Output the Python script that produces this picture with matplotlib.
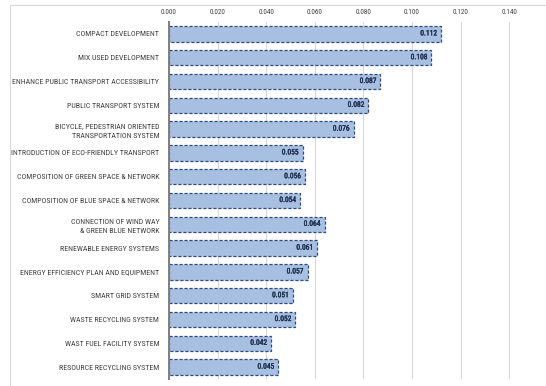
import matplotlib
matplotlib.use("Agg")
import matplotlib.pyplot as plt
import matplotlib.patheffects as pe
from matplotlib.patches import Rectangle
from matplotlib import font_manager
from matplotlib.font_manager import FontProperties

categories = [
    "COMPACT DEVELOPMENT",
    "MIX USED DEVELOPMENT",
    "ENHANCE PUBLIC TRANSPORT ACCESSIBILITY",
    "PUBLIC TRANSPORT SYSTEM",
    "BICYCLE, PEDESTRIAN ORIENTED\nTRANSPORTATION SYSTEM",
    "INTRODUCTION OF ECO-FRIENDLY TRANSPORT",
    "COMPOSITION OF GREEN SPACE & NETWORK",
    "COMPOSITION OF BLUE SPACE & NETWORK",
    "CONNECTION OF WIND WAY\n& GREEN BLUE NETWORK",
    "RENEWABLE ENERGY SYSTEMS",
    "ENERGY EFFICIENCY PLAN AND EQUIPMENT",
    "SMART GRID SYSTEM",
    "WASTE RECYCLING SYSTEM",
    "WAST FUEL FACILITY SYSTEM",
    "RESOURCE RECYCLING SYSTEM",
]
values = [0.112, 0.108, 0.087, 0.082, 0.076, 0.055, 0.056, 0.054,
          0.064, 0.061, 0.057, 0.051, 0.052, 0.042, 0.045]
xticks = [0.0, 0.02, 0.04, 0.06, 0.08, 0.10, 0.12, 0.14]
xtick_labels = ["0.000", "0.020", "0.040", "0.060", "0.080", "0.100", "0.120", "0.140"]

W, H = 546, 386
fig = plt.figure(figsize=(W / 100, H / 100), dpi=100)
renderer = fig.canvas.get_renderer()

# choose an installed sans face whose proportions are closest to the
# reference's narrow face (longest label ~145 px wide at ~6 pt)
longest = "ENHANCE PUBLIC TRANSPORT ACCESSIBILITY"
names = {"Roboto", "Roboto Condensed", "Noto Sans", "Noto Sans Condensed",
         "Open Sans", "Open Sans Condensed", "Lato", "Inter", "Liberation Sans",
         "Liberation Sans Narrow", "DejaVu Sans", "Arimo"}
target_px = 147.0
target_w10 = target_px * 10 / 6.0
best = None
for f in font_manager.fontManager.ttflist:
    if f.name not in names:
        continue
    if f.style != "normal" or f.weight not in (400, "normal", "regular"):
        continue
    try:
        fp = FontProperties(fname=f.fname, size=10)
        w, h, d = renderer.get_text_width_height_descent(longest, fp, ismath=False)
    except Exception:
        continue
    score = abs(w - target_w10)
    if best is None or score < best[0]:
        best = (score, f.fname, w)
fname = best[1]
size = 10 * target_px / best[2]
size = max(min(size, 6.8), 5.0)

label_fp = FontProperties(fname=fname, size=size)
tick_fp = FontProperties(fname=fname, size=size * 0.9)
val_fp = FontProperties(fname=fname, size=size * 0.95)

# outer chart border
fig.patches.append(Rectangle((10 / W, -0.01), 1.0, (H - 5) / H + 0.01,
                             transform=fig.transFigure, fill=False,
                             edgecolor="#D9D9D9", linewidth=0.8))

left, right, top, bottom = 169, 533, 22, 379
ax = fig.add_axes([left / W, (H - bottom) / H, (right - left) / W, (bottom - top) / H])

y = list(range(len(categories)))
ax.barh(y, values, height=0.64, color="#A7BFE0", edgecolor="#2F4B7C",
        linestyle=(0, (2.5, 1.5)), linewidth=0.9, zorder=3)

for yi, v in zip(y, values):
    t = ax.text(v - 0.0017, yi, f"{v:.3f}", ha="right", va="center",
                fontproperties=val_fp, color="#1F3050", zorder=4)
    t.set_path_effects([pe.withStroke(linewidth=0.25, foreground="#1F3050")])

ax.set_xlim(0, (right - left) / 2430)
ax.set_ylim(len(categories) - 0.5, -0.5)
ax.set_xticks(xticks)
ax.set_xticklabels(xtick_labels, fontproperties=tick_fp, color="#404040")
ax.xaxis.tick_top()
ax.tick_params(axis="x", length=0, pad=4)
ax.set_yticks(y)
ax.set_yticklabels(categories, fontproperties=label_fp, color="#404040", linespacing=1.6)
ax.tick_params(axis="y", length=0, pad=7)
ax.grid(axis="x", color="#D9D9D9", linewidth=0.8, zorder=0)
for s in ["top", "right", "bottom"]:
    ax.spines[s].set_visible(False)
ax.spines["left"].set_color("#7F7F7F")
ax.spines["left"].set_linewidth(1.4)
ax.spines["left"].set_zorder(5)

fig.savefig("out.png", dpi=100)
